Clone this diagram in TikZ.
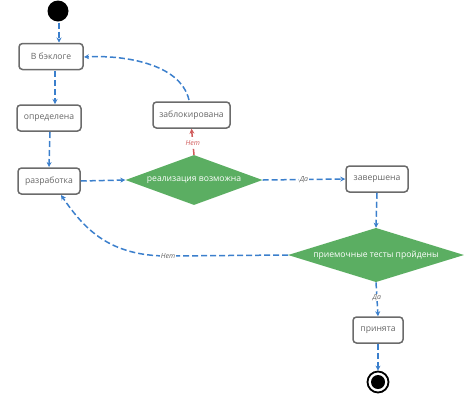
\documentclass[tikz,border=0pt]{standalone}
\usepackage{fontspec}
\setmainfont{Open Sans}
\usetikzlibrary{arrows.meta,shapes.geometric}
\definecolor{flowblue}{HTML}{3B7FCC}
\definecolor{flowred}{HTML}{D05A5A}
\definecolor{dgreen}{HTML}{5BAE62}
\definecolor{boxgray}{HTML}{6B6B6B}
\definecolor{txtgray}{HTML}{666666}
\tikzset{
  state/.style={draw=boxgray, line width=1.5pt, rounded corners=3.5pt, fill=white,
    minimum height=26pt, inner sep=0pt, font=\fontsize{8.6}{10}\selectfont, text=txtgray},
  decision/.style={diamond, fill=dgreen, draw=none, aspect=2.75, inner sep=0pt,
    font=\fontsize{8.6}{10}\selectfont, text=white},
  flow/.style={draw=flowblue, line width=1.5pt, dash pattern=on 6pt off 3pt,
    -{Stealth[length=5pt,width=5pt]}},
  redflow/.style={draw=flowred, line width=1.5pt, dash pattern=on 6pt off 3pt,
    -{Stealth[length=5pt,width=5pt]}},
  lbl/.style={font=\itshape\fontsize{7}{8}\selectfont, text=txtgray, fill=white, inner sep=0.5pt},
}
\begin{document}
\begin{tikzpicture}[x=1pt,y=-1pt]
\useasboundingbox (0,0) rectangle (470,400);
% start and end
\node[circle, fill=black, minimum size=21pt, inner sep=0pt] (start) at (58,11) {};
\node[circle, draw=black, line width=1.8pt, minimum size=21pt, inner sep=0pt] (endo) at (378,382) {};
\node[circle, fill=black, minimum size=14pt, inner sep=0pt] (endi) at (378,382) {};
% states
\node[state, minimum width=64pt] (backlog) at (51,56.5) {В бэклоге};
\node[state, minimum width=64pt] (defined) at (49,118) {определена};
\node[state, minimum width=62pt] (dev) at (49,181) {разработка};
\node[state, minimum width=77pt] (blocked) at (191.5,115) {заблокирована};
\node[state, minimum width=62pt] (done) at (377,179) {завершена};
\node[state, minimum width=50pt] (accepted) at (378,330) {принята};
% decisions
\node[decision, minimum width=137pt, minimum height=50pt] (feasible) at (194,180) {реализация возможна};
\node[decision, minimum width=176pt, minimum height=53pt] (tests) at (376,255) {приемочные тесты пройдены};
% coordinates
\coordinate (s1) at (59,22.5);
\coordinate (b1) at (59,42.5);
\coordinate (b2) at (55,71);
\coordinate (d1) at (55,104);
\coordinate (d2) at (50,132);
\coordinate (v1) at (49,167);
\coordinate (bt) at (189,100);
\coordinate (br) at (84,57);
\coordinate (tl) at (288,255);
\coordinate (vb) at (61,195);
% connectors
\draw[flow] (s1) -- (b1);
\draw[flow] (b2) -- (d1);
\draw[flow] (d2) -- (v1);
\draw[flow] (dev.east) -- (feasible.west);
\draw[redflow] (feasible.north) -- node[lbl, text=flowred, pos=0.45] {Нет} (blocked.south);
\draw[flow] (bt) .. controls (180,62) and (120,55) .. (br);
\draw[flow] (feasible.east) -- node[lbl, pos=0.5] {Да} (done.west);
\draw[flow] (done.south) -- (tests.north);
\draw[flow] (tl) -- (168,256) node[lbl] {Нет} .. controls (110,256) and (85,230) .. (vb);
\draw[flow] (tests.south) -- node[lbl, pos=0.45] {Да} (accepted.north);
\draw[flow] (accepted.south) -- (endo.north);
\end{tikzpicture}
\end{document}
